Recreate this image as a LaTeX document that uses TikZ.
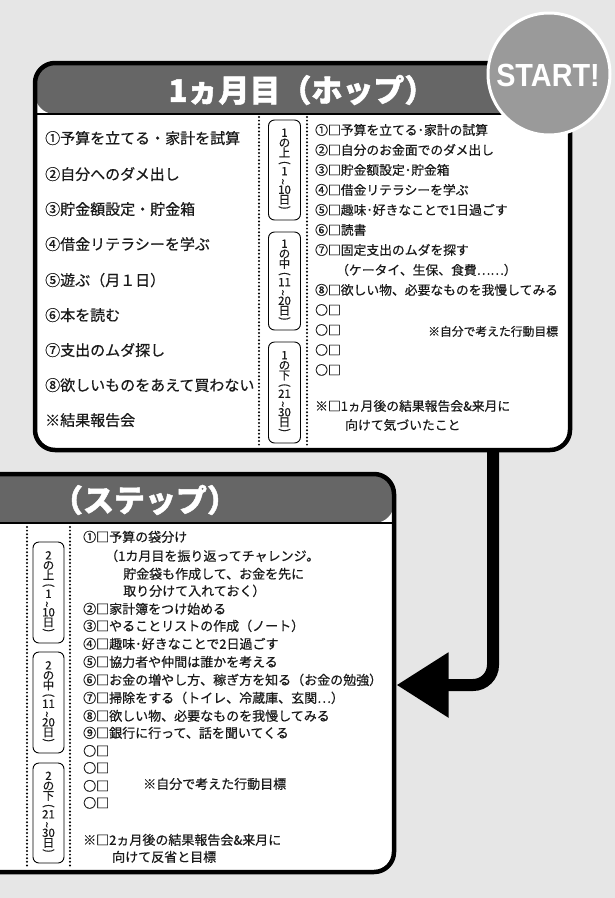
\documentclass[tikz,border=0pt]{standalone}
\usepackage{fontspec}
\usepackage{graphicx}
\usetikzlibrary{arrows.meta}
\newfontfamily\jp{Noto Sans CJK JP}[FakeBold=0.5]
\newfontfamily\jph{Noto Sans CJK JP}[BoldFeatures={FakeBold=1.5}]
\newfontfamily\startf{Liberation Sans}
\definecolor{bg}{HTML}{E6E6E6}
\definecolor{hdr}{HTML}{666666}
\definecolor{stc}{HTML}{9A9A9A}
\definecolor{ink}{HTML}{1A1A1A}
\newcommand\tatelab[4]{#1\\[-1.5pt]の\\[-1.5pt]#2\\[-2pt]\rotatebox[origin=c]{-90}{(}\\[-2.5pt]#3\\[-2.5pt]\rotatebox[origin=c]{90}{\textasciitilde}\\[-2pt]#4\\[-1.5pt]日\\[-4pt]\rotatebox[origin=c]{-90}{)}}
\begin{document}
\begin{tikzpicture}[x=1pt,y=-1pt,
  panel/.style={draw=black, fill=white, line width=4.5pt, rounded corners=20pt, inner sep=0pt, outer sep=0pt},
  ltxt/.style={anchor=west, inner sep=0pt, text=ink, text height=0.88em, text depth=0.12em, font=\jp\fontsize{15}{18}\selectfont},
  rtxt/.style={anchor=west, inner sep=0pt, text=ink, text height=0.88em, text depth=0.12em, font=\jp\fontsize{12.8}{15}\selectfont},
  btxt/.style={anchor=west, inner sep=0pt, text=ink, text height=0.88em, text depth=0.12em, font=\jp\fontsize{13}{15}\selectfont},
  htxt/.style={text=white, inner sep=0pt, font=\jph\bfseries\fontsize{31}{36}\selectfont},
  tlab/.style={draw=black, line width=0.9pt, rounded corners=6pt, minimum width=32pt, minimum height=100pt, inner sep=0pt, align=center, text=ink, font=\jp\fontsize{11.5}{11.5}\selectfont},
  sepline/.style={line width=2.2pt, dash pattern=on 0pt off 3.6pt, line cap=round},
  conn/.style={line width=12pt, rounded corners=20pt, -{Triangle[width=62pt,length=52pt]}}
]
\useasboundingbox (0,0) rectangle (615,898);
\fill[bg] (0,0) rectangle (615,898);

% box 1
\node[panel, minimum width=535pt, minimum height=387pt,
  path picture={\fill[hdr] ([yshift=3pt]path picture bounding box.north west) rectangle ([yshift=-51pt]path picture bounding box.north east);
  \draw[line width=2pt] ([yshift=-51pt]path picture bounding box.north west) -- ([yshift=-51pt]path picture bounding box.north east);}]
  (box1) at (302.5,256.5) {};
% box 2
\node[panel, minimum width=498pt, minimum height=398pt,
  path picture={\fill[hdr] ([yshift=3pt]path picture bounding box.north west) rectangle ([yshift=-49pt]path picture bounding box.north east);
  \draw[line width=2pt] ([yshift=-49pt]path picture bounding box.north west) -- ([yshift=-49pt]path picture bounding box.north east);}]
  (box2) at (145,673) {};

% connector
\coordinate (cx) at (493,0);
\coordinate (ay) at (0,685);
\path (box2.east |- ay) coordinate (tip0);
\coordinate (tip) at ([xshift=2.5pt]tip0);
\draw[conn] (box1.south -| cx) -- (cx |- ay) -- (tip);

% headers
\node[htxt] (h1) at (302,90) {1ヵ月目（ホップ）};
\node[htxt] (h2) at (145,500) {（ステップ）};

% separators box 1
\draw[sepline] (259,117) -- (259,447);
\draw[sepline] (307,117) -- (307,447);
% separators box 2
\draw[sepline] (27,527) -- (27,869);
\draw[sepline] (70,527) -- (70,869);

% period labels
\node[tlab] (p11) at (284.5,170) {\tatelab{1}{上}{1}{10}};
\node[tlab, minimum height=98pt] (p12) at (284.5,281) {\tatelab{1}{中}{11}{20}};
\node[tlab, minimum height=101pt] (p13) at (284.5,392.5) {\tatelab{1}{下}{21}{30}};
\node[tlab, minimum width=31pt, minimum height=101pt] (p21) at (48.5,592.5) {\tatelab{2}{上}{1}{10}};
\node[tlab, minimum width=31pt, minimum height=101pt] (p22) at (48.5,702.5) {\tatelab{2}{中}{11}{20}};
\node[tlab, minimum width=31pt, minimum height=100pt] (p23) at (48.5,813) {\tatelab{2}{下}{21}{30}};

% box 1 left column
\node[ltxt] (l1) at (45,140) {①予算を立てる・家計を試算};
\node[ltxt] (l2) at (45,176) {②自分へのダメ出し};
\node[ltxt] (l3) at (45,211) {③貯金額設定・貯金箱};
\node[ltxt] (l4) at (45,246) {④借金リテラシーを学ぶ};
\node[ltxt] (l5) at (45,282) {⑤遊ぶ（月１日）};
\node[ltxt] (l6) at (45,317) {⑥本を読む};
\node[ltxt] (l7) at (45,352) {⑦支出のムダ探し};
\node[ltxt] (l8) at (45,387) {⑧欲しいものをあえて買わない};
\node[ltxt] (l9) at (45,422) {※結果報告会};

% box 1 right column
\node[rtxt] (r1) at (315,131) {①□予算を立てる･家計の試算};
\node[rtxt] (r2) at (315,151) {②□自分のお金面でのダメ出し};
\node[rtxt] (r3) at (315,171) {③□貯金額設定･貯金箱};
\node[rtxt] (r4) at (315,191) {④□借金リテラシーを学ぶ};
\node[rtxt] (r5) at (315,211) {⑤□趣味･好きなことで1日過ごす};
\node[rtxt] (r6) at (315,231) {⑥□読書};
\node[rtxt] (r7) at (315,251) {⑦□固定支出のムダを探す};
\node[rtxt] (r7b) at (336,271) {（ケータイ、生保、食費……）};
\node[rtxt] (r8) at (315,291) {⑧□欲しい物、必要なものを我慢してみる};
\node[rtxt] (r9) at (315,311) {○□};
\node[rtxt] (r10) at (315,331) {○□};
\node[rtxt] (r11) at (315,351) {○□};
\node[rtxt] (r12) at (315,371) {○□};
\node[rtxt, font=\jp\fontsize{11.8}{14}\selectfont] (rself) at (428,332) {※自分で考えた行動目標};
\node[rtxt] (r13) at (315,407) {※□1ヵ月後の結果報告会\&来月に};
\node[rtxt] (r14) at (345,426) {向けて気づいたこと};

% box 2 column
\node[btxt] (b1) at (83,538) {①□予算の袋分け};
\node[btxt] (b1a) at (105,557) {（1カ月目を振り返ってチャレンジ。};
\node[btxt] (b1b) at (123,575) {貯金袋も作成して、お金を先に};
\node[btxt] (b1c) at (123,592) {取り分けて入れておく）};
\node[btxt] (b2) at (83,610) {②□家計簿をつけ始める};
\node[btxt] (b3) at (83,627) {③□やることリストの作成（ノート）};
\node[btxt] (b4) at (83,645) {④□趣味･好きなことで2日過ごす};
\node[btxt] (b5) at (83,663) {⑤□協力者や仲間は誰かを考える};
\node[btxt] (b6) at (83,681) {⑥□お金の増やし方、稼ぎ方を知る（お金の勉強）};
\node[btxt] (b7) at (83,699) {⑦□掃除をする（トイレ、冷蔵庫、玄関…）};
\node[btxt] (b8) at (83,717) {⑧□欲しい物、必要なものを我慢してみる};
\node[btxt] (b9) at (83,734) {⑨□銀行に行って、話を聞いてくる};
\node[btxt] (b10) at (83,752) {○□};
\node[btxt] (b11) at (83,769) {○□};
\node[btxt] (b12) at (83,787) {○□};
\node[btxt] (b13) at (83,804) {○□};
\node[btxt] (bself) at (143,785) {※自分で考えた行動目標};
\node[btxt] (b14) at (83,841) {※□2ヵ月後の結果報告会\&来月に};
\node[btxt] (b15) at (112,858) {向けて反省と目標};

% start badge
\node[circle, fill=stc, draw=white, line width=3pt, minimum size=122pt, inner sep=0pt] (start) at (549,74) {};
\node[text=white, inner sep=0pt, font=\startf\bfseries\fontsize{32}{32}\selectfont] (starttxt) at (548,75) {\scalebox{0.9}[1]{START!}};
\end{tikzpicture}
\end{document}
